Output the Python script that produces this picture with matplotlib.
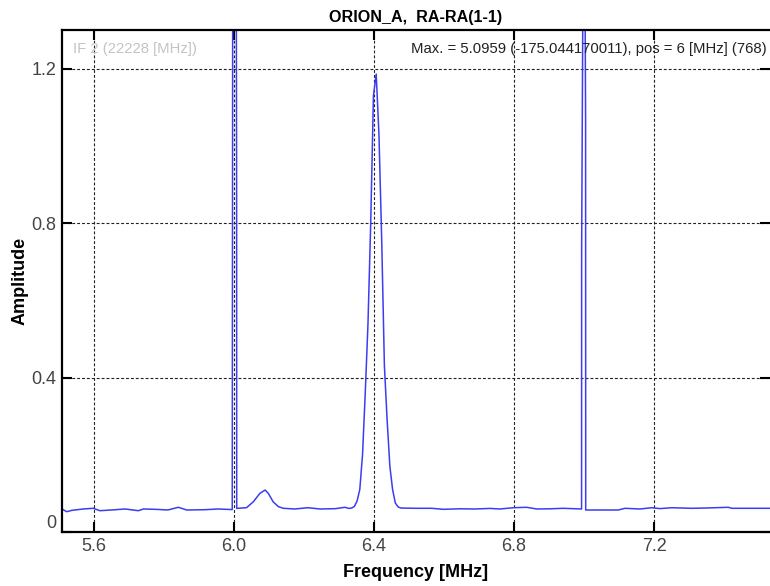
import matplotlib
matplotlib.use("Agg")
import matplotlib.pyplot as plt

### spectrum (MHz, amplitude)

freq = [5.5086, 5.522, 5.537, 5.569, 5.598, 5.617, 5.651, 5.689, 5.727, 5.741,
        5.774, 5.811, 5.841, 5.865, 5.917, 5.955, 5.9950,
        6.0, 6.0075, 6.0078,
        6.036, 6.055, 6.074, 6.089, 6.098, 6.112, 6.127, 6.141, 6.174, 6.211,
        6.246, 6.289, 6.317, 6.3281,
        6.3359, 6.3438, 6.3516, 6.3594, 6.3672, 6.375, 6.3828, 6.3906, 6.3984,
        6.4063, 6.4141, 6.4219, 6.4297, 6.4375, 6.4453, 6.4531, 6.4609, 6.4688,
        6.4766,
        6.520, 6.565, 6.598, 6.646, 6.689, 6.731, 6.760, 6.798, 6.836, 6.865,
        6.903, 6.941, 6.9930,
        6.9932, 7.0, 7.0045, 7.0048,
        7.027, 7.098, 7.117, 7.160, 7.193, 7.217, 7.251, 7.308, 7.346, 7.412,
        7.422, 7.474, 7.5313]
amp = [0.0595, 0.0525, 0.056, 0.0595, 0.0613, 0.0551, 0.057, 0.0595, 0.0551, 0.0595,
       0.0587, 0.057, 0.0639, 0.0569, 0.0577, 0.0595, 0.058,
       5.0959, 0.897, 0.061,
       0.063, 0.078, 0.100, 0.1086, 0.100, 0.078, 0.0655, 0.0613, 0.0595, 0.0628,
       0.0595, 0.0603, 0.0639, 0.061,
       0.062, 0.066, 0.080, 0.110, 0.200, 0.360, 0.540, 0.800, 1.130,
       1.186, 1.030, 0.760, 0.430, 0.290, 0.170, 0.110, 0.075, 0.065,
       0.062,
       0.0613, 0.0613, 0.0587, 0.060, 0.0595, 0.061, 0.0595, 0.0628, 0.0639, 0.0595,
       0.060, 0.0613, 0.0595,
       0.73, 2.0, 1.065, 0.0569,
       0.0569, 0.0569, 0.0613, 0.0595, 0.0628, 0.0605, 0.0628, 0.0613, 0.062, 0.0639,
       0.0613, 0.0613, 0.0613]

xticks = [5.6, 6.0, 6.4, 6.8, 7.2]
xticklabels = ["5.6", "6.0", "6.4", "6.8", "7.2"]
yticks = [0, 0.4, 0.8, 1.2]
yticklabels = ["0", "0.4", "0.8", "1.2"]

title = "ORION_A,  RA-RA(1-1)"
if_text = "IF 2 (22228 [MHz])"
max_text = "Max. = 5.0959 (-175.044170011), pos = 6 [MHz] (768)"

plt.rcParams['font.family'] = ['Liberation Sans', 'DejaVu Sans']

fig = plt.figure(figsize=(7.7, 5.86), dpi=100)
ax = fig.add_axes([0.0805, 0.0922, 0.9195, 0.8566])

ax.plot(freq, amp, color='#3c3cf0', lw=1.1)

ax.set_xlim(5.5086, 7.5313)
ax.set_ylim(0, 1.3)

ax.set_xticks(xticks)
ax.set_xticklabels(xticklabels)
ax.set_yticks(yticks)
ax.set_yticklabels(yticklabels)

ax.grid(True, color='#222222', lw=0.8, linestyle=(0, (2.6, 1.8)))

for s in ['left', 'bottom', 'top']:
    ax.spines[s].set_linewidth(1.6)
ax.spines['right'].set_visible(False)

ax.tick_params(direction='in', length=7, width=1.5, top=True, right=True,
               labelsize=13, labelcolor='#444444')
ax.tick_params(axis='x', pad=4)
ax.tick_params(axis='y', pad=4)
# zero label sits just above the axis in the original
ax.get_yticklabels()[0].set_va('bottom')

ax.set_title(title, fontsize=11.6, fontweight='bold', pad=6)
ax.set_xlabel("Frequency [MHz]", fontsize=13, fontweight='bold', labelpad=7)
ax.set_ylabel("Amplitude", fontsize=13, fontweight='bold', labelpad=2)

ax.text(0.015, 0.962, if_text, transform=ax.transAxes, fontsize=10.7,
        color='#c4c4c4', va='center', ha='left')
ax.text(0.995, 0.962, max_text, transform=ax.transAxes, fontsize=10.7,
        color='#222222', va='center', ha='right')

fig.savefig("out.png", dpi=100)
